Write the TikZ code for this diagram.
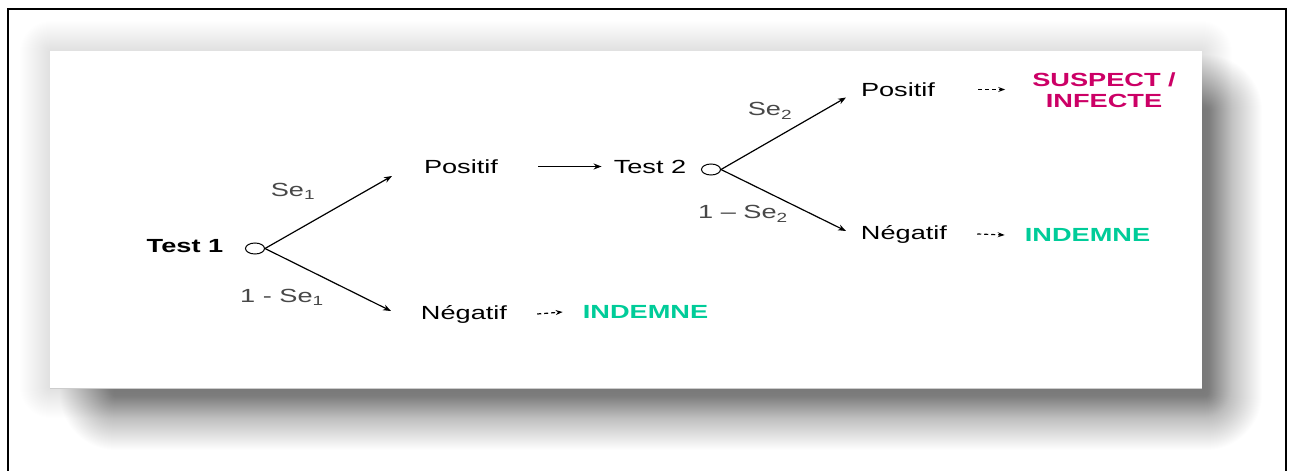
\documentclass[tikz,border=0pt]{standalone}
\usepackage{fontspec}
\setmainfont{Liberation Sans}
\newfontfamily\wsans[FakeStretch=1.43]{Liberation Sans}
\usetikzlibrary{arrows.meta,shapes.geometric}
\definecolor{suspcol}{RGB}{204,0,102}
\definecolor{indemcol}{RGB}{0,204,153}
\definecolor{labcol}{RGB}{72,72,72}
\begin{document}
\begin{tikzpicture}[x=1pt,y=-1pt,
  txt/.style={font=\wsans\fontsize{19}{20.5}\selectfont, inner sep=0pt, text=black},
  boldtxt/.style={txt, font=\wsans\bfseries\fontsize{19}{20.5}\selectfont},
  labtxt/.style={txt, text=labcol},
  circ/.style={ellipse, draw, line width=1pt, minimum width=19pt, minimum height=11pt, inner sep=0pt},
  arr/.style={line width=1.2pt, -{Stealth[length=8pt,width=6pt]}},
  darr/.style={line width=1.2pt, dash pattern=on 4pt off 3pt, -{Stealth[length=7pt,width=5pt]}}]
\useasboundingbox (0,0) rectangle (1293,471);
\fill[white] (0,0) rectangle (1293,471);
% faint halo round the panel
\foreach \i in {0,...,29}
  \fill[black, opacity=0.0025, rounded corners=30-\i+1] (20+\i,21+\i) rectangle (1232-\i,418-\i);
% soft offset shadow
\foreach \i in {0,...,54}
  \fill[black, opacity=0.009, rounded corners=56-\i] (60+\i,55+\i) rectangle (1262-\i,450-\i);
\fill[white] (50,51) rectangle (1202,388);
\draw[black!20, line width=0.6pt] (50,388) -- (1202,388);
% outer frame
\draw[line width=2.5pt] (8,471) -- (8,9) -- (1286,9) -- (1286,471);

% first test
\node[boldtxt] (t1) at (185,246) {Test 1};
\node[circ] (c1) at (255,248.5) {};
\coordinate (e1) at (392,176);
\coordinate (e2) at (391,311);
\draw[arr] (c1.east) -- (e1);
\draw[arr] (c1.east) -- (e2);
\node[labtxt] (l1) at (293,191) {Se\textsubscript{1}};
\node[labtxt] (l2) at (282,297) {1 - Se\textsubscript{1}};
\node[txt] (p1) at (461,166.5) {Positif};
\node[txt] (n1) at (464,314) {Négatif};
\node[boldtxt, text=indemcol] (i1) at (645.5,312) {INDEMNE};
\draw[darr] ([xshift=30pt]n1.east) -- ([xshift=-20pt]i1.west);

% second test
\node[txt] (t2) at (650,166.5) {Test 2};
\draw[arr] ([xshift=40pt]p1.east) -- ([xshift=-12pt]t2.west);
\node[circ] (c2) at (711,169.5) {};
\coordinate (e3) at (846,97.5);
\coordinate (e4) at (846,231);
\draw[arr] (c2.east) -- (e3);
\draw[arr] (c2.east) -- (e4);
\node[labtxt] (l3) at (770,111) {Se\textsubscript{2}};
\node[labtxt] (l4) at (743,214) {1 – Se\textsubscript{2}};
\node[txt] (p2) at (898,89.5) {Positif};
\node[txt] (n2) at (904,234) {Négatif};
\node[boldtxt, text=suspcol, align=center] (s2) at (1104,90) {SUSPECT /\\INFECTE};
\node[boldtxt, text=indemcol] (i2) at (1087.5,235) {INDEMNE};
\draw[darr] ([xshift=43pt]p2.east) -- ([xshift=70pt]p2.east);
\draw[darr] ([xshift=30pt]n2.east) -- ([xshift=-20pt]i2.west);
\end{tikzpicture}
\end{document}
